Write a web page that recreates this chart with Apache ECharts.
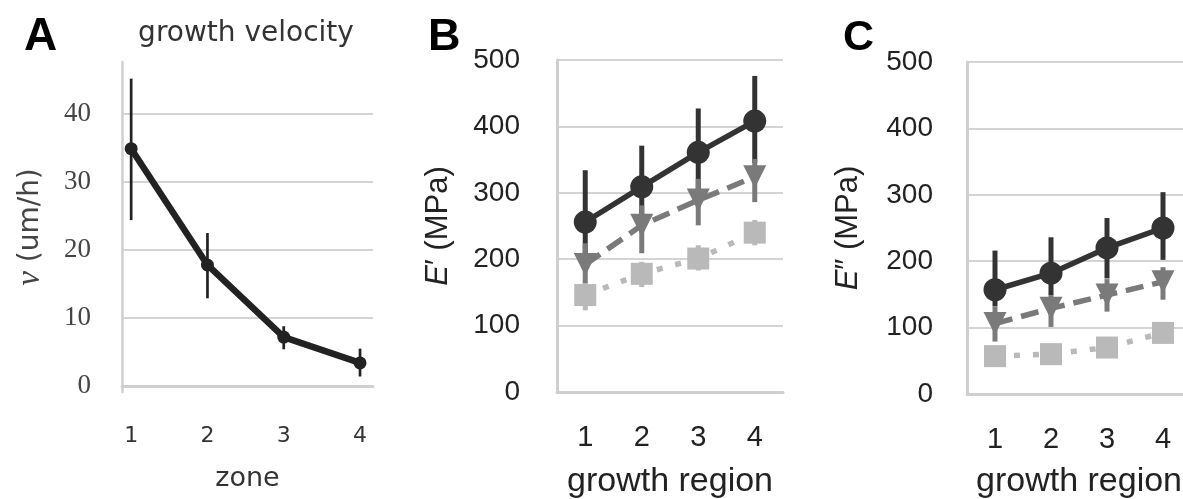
<!DOCTYPE html>
<html><head><meta charset="utf-8">
<script src="https://cdn.jsdelivr.net/npm/echarts@6/dist/echarts.min.js"></script>
<style>html,body{margin:0;padding:0;background:#fff}#c{width:1183px;height:499px}</style>
</head><body><div id="c"></div>
<script>
// ---- Panel A: growth velocity ----
const zones = [1, 2, 3, 4];
const velTicks = [0, 10, 20, 30, 40];
const velMean = [34.9, 17.8, 7.2, 3.4];
const velLow = [24.4, 12.9, 5.4, 1.4];
const velHigh = [45.2, 22.5, 8.8, 5.5];

// ---- Panels B, C: growth regions ----
const regions = ['1', '2', '3', '4'];
// E' (storage modulus)
const bDarkMean = [256, 309, 361, 408];
const bDarkLow = [185, 250, 300, 345];
const bDarkHigh = [334, 371, 427, 476];
const bMidMean = [192, 251, 289, 324];
const bMidLow = [160, 209, 251, 286];
const bMidHigh = [224, 281, 321, 351];
const bLightMean = [146, 178, 201, 240];
const bLightLow = [123, 158, 183, 221];
const bLightHigh = [164, 196, 221, 259];
// E'' (loss modulus)
const cDarkMean = [157, 182, 220, 250];
const cDarkLow = [132, 149, 174, 202];
const cDarkHigh = [216, 236, 265, 304];
const cMidMean = [106, 129, 149, 169];
const cMidLow = [79, 101, 124, 142];
const cMidHigh = [132, 149, 173, 191];
const cLightMean = [57, 60, 70, 92];
const cLightLow = [48, 52, 62, 82];
const cLightHigh = [66, 68, 78, 102];

const DARK = '#333333', MID = '#7a7a7a', LIGHT = '#b9b9b9';
const SPINE = '#cfcfcf', GRID = '#d4d4d4';
const SANS = 'Liberation Sans, Arial, sans-serif';

function errSeries(idx, xs, lo, hi, color, width) {
  return {
    type: 'custom', xAxisIndex: idx, yAxisIndex: idx, silent: true,
    data: xs.map((x, i) => [x, lo[i], hi[i]]),
    encode: { x: 0, y: [1, 2] },
    renderItem: function (params, api) {
      const a = api.coord([api.value(0), api.value(1)]);
      const b = api.coord([api.value(0), api.value(2)]);
      return { type: 'line', shape: { x1: a[0], y1: a[1], x2: b[0], y2: b[1] },
        style: { stroke: color, lineWidth: width, lineCap: 'butt' } };
    }
  };
}
function lineSeries(idx, data, color, symbol, size, dash) {
  return {
    type: 'line', xAxisIndex: idx, yAxisIndex: idx, data: data,
    symbol: symbol, symbolSize: size, showSymbol: true,
    itemStyle: { color: color, borderWidth: 0 },
    lineStyle: { color: color, width: 5.5, type: dash, cap: 'butt' },
    clip: false
  };
}

const catX = (idx, gap) => ({
  type: 'category', gridIndex: idx, data: regions, boundaryGap: true,
  axisLine: { show: true, lineStyle: { color: SPINE, width: 3 } },
  axisTick: { show: false },
  axisLabel: { margin: 31, fontFamily: SANS, fontSize: 29, color: '#222' },
  name: 'growth region', nameLocation: 'middle', nameGap: gap,
  nameTextStyle: { fontFamily: SANS, fontSize: 34, color: '#222' },
  splitLine: { show: false }
});
const modY = (idx, prime, margin) => ({
  type: 'value', gridIndex: idx, min: 0, max: 500, interval: 100,
  axisLine: { show: true, lineStyle: { color: SPINE, width: 3 } },
  axisTick: { show: false },
  axisLabel: { margin: margin, fontFamily: SANS, fontSize: 28, color: '#222' },
  splitLine: { show: true, lineStyle: { color: GRID, width: 2 } },
  name: '{i|E}' + prime + ' (MPa)', nameLocation: 'middle', nameRotate: 90, nameGap: 103,
  nameTextStyle: { fontFamily: SANS, fontSize: 31, color: '#222',
    rich: { i: { fontFamily: SANS, fontStyle: 'italic', fontSize: 31, color: '#222' } } }
});

const option = {
  animation: false,
  backgroundColor: '#ffffff',
  grid: [
    { left: 122, top: 62, width: 251, height: 330, containLabel: false, outerBoundsMode: 'none' },
    { left: 557, top: 60, width: 226, height: 332, containLabel: false, outerBoundsMode: 'none' },
    { left: 967, top: 62, width: 224, height: 332, containLabel: false, outerBoundsMode: 'none' }
  ],
  xAxis: [
    {
      type: 'value', gridIndex: 0, min: 0.88, max: 4.17,
      axisLine: { show: true, lineStyle: { color: SPINE, width: 3 } },
      axisTick: { show: false, customValues: zones },
      axisLabel: { customValues: zones, margin: 33, fontFamily: 'DejaVu Sans', fontSize: 22, color: '#333' },
      splitLine: { show: false },
      name: 'zone', nameLocation: 'middle', nameGap: 73,
      nameTextStyle: { fontFamily: 'DejaVu Sans', fontSize: 27, color: '#333' }
    },
    catX(1, 73), catX(2, 71)
  ],
  yAxis: [
    {
      type: 'value', gridIndex: 0, min: -0.88, max: 47.65,
      axisLine: { show: true, lineStyle: { color: SPINE, width: 2.5 } },
      axisTick: { show: false, customValues: velTicks },
      axisLabel: { customValues: velTicks, margin: 31, fontFamily: 'Liberation Serif', fontSize: 27, color: '#444' },
      splitLine: { show: true, lineStyle: { color: GRID, width: 2 } },
      name: '{i|v} (um/h)', nameLocation: 'middle', nameRotate: 90, nameGap: 75,
      nameTextStyle: { fontFamily: 'DejaVu Sans', fontSize: 28, color: '#444',
        rich: { i: { fontFamily: 'Liberation Serif', fontStyle: 'italic', fontSize: 33, color: '#444' } } }
    },
    modY(1, '′', 37), modY(2, '″', 34)
  ],
  graphic: [
    { type: 'text', left: 24, top: 14, style: { text: 'A', font: 'bold 46px Liberation Sans', fill: '#000' } },
    { type: 'text', left: 428, top: 15, style: { text: 'B', font: 'bold 45px Liberation Sans', fill: '#000' } },
    { type: 'text', left: 843, top: 17, style: { text: 'C', font: 'bold 43px Liberation Sans', fill: '#000' } },
    { type: 'text', x: 246, y: 34, style: { text: 'growth velocity', font: '28px DejaVu Sans', fill: '#333', align: 'center', verticalAlign: 'middle' } }
  ],
  series: [
    errSeries(0, zones, velLow, velHigh, '#222', 2.7),
    Object.assign(lineSeries(0, zones.map((z, i) => [z, velMean[i]]), '#222', 'circle', 13, 'solid'), { lineStyle: { color: '#222', width: 6.5 } }),

    errSeries(1, [0, 1, 2, 3], bDarkLow, bDarkHigh, DARK, 5),
    lineSeries(1, bDarkMean, DARK, 'circle', 23, 'solid'),
    errSeries(1, [0, 1, 2, 3], bMidLow, bMidHigh, MID, 5),
    lineSeries(1, bMidMean, MID, 'path://M0,0 L10,0 L5,9 Z', 23, [18, 9]),
    errSeries(1, [0, 1, 2, 3], bLightLow, bLightHigh, LIGHT, 5),
    lineSeries(1, bLightMean, LIGHT, 'rect', 22, [6, 13]),

    errSeries(2, [0, 1, 2, 3], cDarkLow, cDarkHigh, DARK, 5),
    lineSeries(2, cDarkMean, DARK, 'circle', 23, 'solid'),
    errSeries(2, [0, 1, 2, 3], cMidLow, cMidHigh, MID, 5),
    lineSeries(2, cMidMean, MID, 'path://M0,0 L10,0 L5,9 Z', 23, [18, 9]),
    errSeries(2, [0, 1, 2, 3], cLightLow, cLightHigh, LIGHT, 5),
    lineSeries(2, cLightMean, LIGHT, 'rect', 22, [6, 13])
  ]
};
const chart = echarts.init(document.getElementById('c'), null, { renderer: 'canvas' });
chart.setOption(option);
</script>
</body></html>
